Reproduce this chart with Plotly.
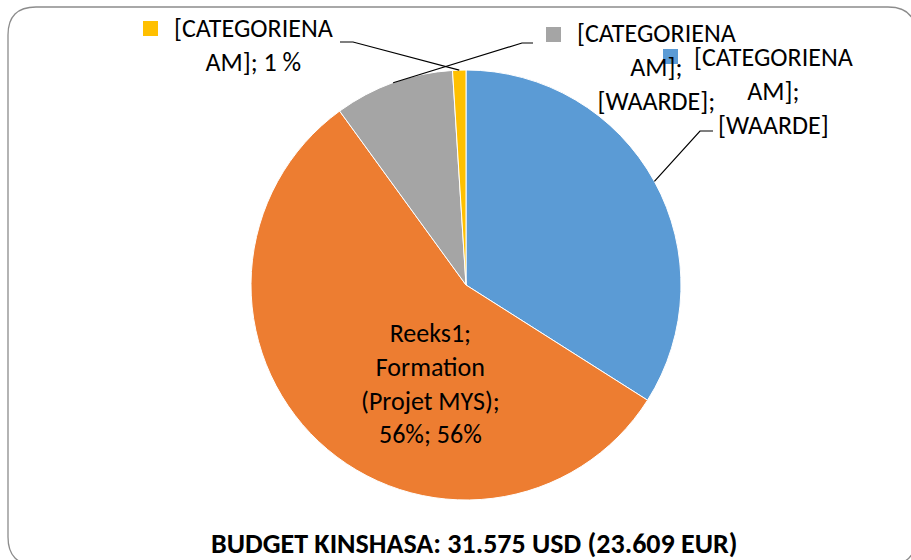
import math
import plotly.graph_objects as go

# ---- data ----
categories = ["[CATEGORIENAAM]", "Formation (Projet MYS)", "[CATEGORIENAAM]", "[CATEGORIENAAM]"]
values = [34, 56, 9, 1]
colors = ["#5B9BD5", "#ED7D31", "#A5A5A5", "#FFC000"]
label_texts = [
    "[CATEGORIENA<br>AM];<br>[WAARDE]",
    "Reeks1;<br>Formation<br>(Projet MYS);<br>56%; 56%",
    "[CATEGORIENA<br>AM];<br>[WAARDE];",
    "[CATEGORIENA<br>AM]; 1 %",
]
title_text = "<b>BUDGET KINSHASA: 31.575 USD (23.609 EUR)</b>"

W, H = 911, 560
FONT = "Calibri, Carlito, Lato, sans-serif"

# pie geometry (pixels)
cx, cy, r = 466, 285, 215

def px(x):
    return x / W

def py(y):
    return 1 - y / H

fig = go.Figure()
fig.add_trace(go.Pie(
    values=values,
    labels=[f"{c} {i}" for i, c in enumerate(categories)],
    marker=dict(colors=colors, line=dict(color="white", width=1)),
    sort=False,
    direction="clockwise",
    rotation=0,
    textinfo="none",
    hoverinfo="label+percent",
    showlegend=False,
    domain=dict(x=[px(cx - r), px(cx + r)], y=[py(cy + r), py(cy - r)]),
))

# slice mid-angles computed from the data
total = sum(values)
mids = []
acc = 0
for v in values:
    mids.append((acc + v / 2) / total * 360)
    acc += v

def edge_point(angle_deg):
    a = math.radians(angle_deg)
    return cx + r * math.sin(a), cy - r * math.cos(a)

shapes = []
annotations = []

# label positions (pixel centres) and leader-line elbows / keys
label_pos = {0: (773, 91), 1: (430, 383), 2: (656, 67), 3: (253, 45)}
elbows = {0: [(700, 131), (713, 131)], 2: [(522, 43), (533, 43)], 3: [(353, 42), (340, 42)]}
keys = {0: (663, 49), 2: (546, 27), 3: (143, 21)}

for i, txt in enumerate(label_texts):
    x, y = label_pos[i]
    annotations.append(dict(
        text=txt, x=px(x), y=py(y), xref="paper", yref="paper",
        xanchor="center", yanchor="middle", showarrow=False, align="center",
        font=dict(family=FONT, size=26, color="#000000"),
    ))

for i, pts in elbows.items():
    sx, sy = edge_point(mids[i])
    path = f"M {px(sx)} {py(sy)} " + " ".join(f"L {px(a)} {py(b)}" for a, b in pts)
    shapes.append(dict(type="path", path=path, xref="paper", yref="paper",
                       line=dict(color="black", width=1.2), layer="above"))

for i, (kx, ky) in keys.items():
    shapes.append(dict(type="rect", xref="paper", yref="paper",
                       x0=px(kx), x1=px(kx + 15), y0=py(ky + 15), y1=py(ky),
                       fillcolor=colors[i], line=dict(width=0), layer="above"))

# rounded chart border
L, T, R, B, rad = 8, 7, 916, 565, 28
bpath = (f"M {px(L + rad)} {py(T)} L {px(R - rad)} {py(T)} "
         f"Q {px(R)} {py(T)} {px(R)} {py(T + rad)} "
         f"L {px(R)} {py(B - rad)} Q {px(R)} {py(B)} {px(R - rad)} {py(B)} "
         f"L {px(L + rad)} {py(B)} Q {px(L)} {py(B)} {px(L)} {py(B - rad)} "
         f"L {px(L)} {py(T + rad)} Q {px(L)} {py(T)} {px(L + rad)} {py(T)} Z")
shapes.append(dict(type="path", path=bpath, xref="paper", yref="paper",
                   line=dict(color="#8C8C8C", width=1.3), layer="below"))

annotations.append(dict(
    text=title_text, x=px(474), y=py(543), xref="paper", yref="paper",
    xanchor="center", yanchor="middle", showarrow=False,
    font=dict(family=FONT, size=28, color="#000000"),
))

fig.update_layout(
    width=W, height=H,
    margin=dict(l=0, r=0, t=0, b=0),
    paper_bgcolor="white", plot_bgcolor="white",
    shapes=shapes, annotations=annotations,
    showlegend=False,
)

fig.write_html(
    "out.html",
    config={"displayModeBar": False},
    post_script="document.body.style.margin='0px';document.body.style.overflow='hidden';",
)
